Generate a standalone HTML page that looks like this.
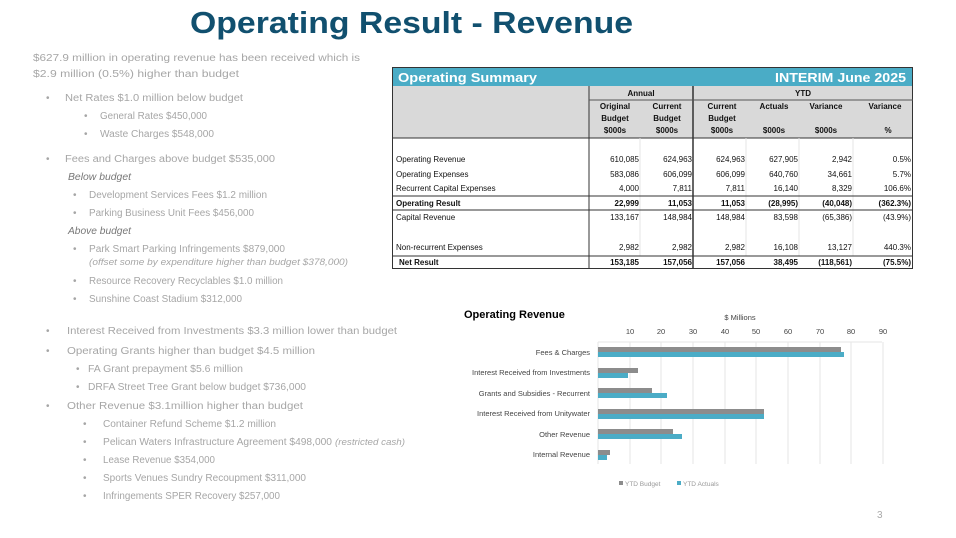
<!DOCTYPE html>
<html><head><meta charset="utf-8"><style>
html,body{margin:0;padding:0;background:#fff;width:956px;height:538px;overflow:hidden}
svg{display:block}
.g{fill:#a6a6a6;font-family:"Liberation Sans",sans-serif;font-size:10px}
.t{font-family:"Liberation Sans",sans-serif;font-size:8px;fill:#111}
.b{font-weight:bold}
.c{font-family:"Liberation Sans",sans-serif;font-size:7.5px;fill:#444}
</style></head><body>
<svg width="956" height="538" viewBox="0 0 956 538" xmlns="http://www.w3.org/2000/svg">
<text x="190" y="33" textLength="443" lengthAdjust="spacingAndGlyphs" font-family="Liberation Sans,sans-serif" font-size="31" font-weight="bold" fill="#11506f">Operating Result - Revenue</text>

<g class="g">
<text x="33" y="61" textLength="327" lengthAdjust="spacingAndGlyphs">$627.9 million in operating revenue has been received which is</text>
<text x="33" y="77" textLength="206" lengthAdjust="spacingAndGlyphs">$2.9 million (0.5%) higher than budget</text>
<text x="46" y="101">•</text><text x="65" y="101" textLength="178" lengthAdjust="spacingAndGlyphs">Net Rates $1.0 million below budget</text>
<text x="84" y="119">•</text><text x="100" y="119" textLength="107" lengthAdjust="spacingAndGlyphs">General Rates $450,000</text>
<text x="84" y="137">•</text><text x="100" y="137" textLength="114" lengthAdjust="spacingAndGlyphs">Waste Charges $548,000</text>
<text x="46" y="162">•</text><text x="65" y="162" textLength="210" lengthAdjust="spacingAndGlyphs">Fees and Charges above budget $535,000</text>
<text x="68" y="180" font-style="italic" textLength="63" lengthAdjust="spacingAndGlyphs" fill="#777">Below budget</text>
<text x="73" y="198">•</text><text x="89" y="198" textLength="178" lengthAdjust="spacingAndGlyphs">Development Services Fees $1.2 million</text>
<text x="73" y="216">•</text><text x="89" y="216" textLength="165" lengthAdjust="spacingAndGlyphs">Parking Business Unit Fees $456,000</text>
<text x="68" y="234" font-style="italic" textLength="63" lengthAdjust="spacingAndGlyphs" fill="#777">Above budget</text>
<text x="73" y="252">•</text><text x="89" y="252" textLength="196" lengthAdjust="spacingAndGlyphs">Park Smart Parking Infringements $879,000</text>
<text x="89" y="265" font-style="italic" font-size="9" textLength="259" lengthAdjust="spacingAndGlyphs">(offset some by expenditure higher than budget $378,000)</text>
<text x="73" y="284">•</text><text x="89" y="284" textLength="194" lengthAdjust="spacingAndGlyphs">Resource Recovery Recyclables $1.0 million</text>
<text x="73" y="302">•</text><text x="89" y="302" textLength="153" lengthAdjust="spacingAndGlyphs">Sunshine Coast Stadium $312,000</text>
<text x="46" y="334">•</text><text x="67" y="334" textLength="330" lengthAdjust="spacingAndGlyphs">Interest Received from Investments $3.3 million lower than budget</text>
<text x="46" y="354">•</text><text x="67" y="354" textLength="248" lengthAdjust="spacingAndGlyphs">Operating Grants higher than budget $4.5 million</text>
<text x="76" y="372">•</text><text x="88" y="372" textLength="155" lengthAdjust="spacingAndGlyphs">FA Grant prepayment $5.6 million</text>
<text x="76" y="390">•</text><text x="88" y="390" textLength="218" lengthAdjust="spacingAndGlyphs">DRFA Street Tree Grant below budget $736,000</text>
<text x="46" y="409">•</text><text x="67" y="409" textLength="236" lengthAdjust="spacingAndGlyphs">Other Revenue $3.1million higher than budget</text>
<text x="83" y="427">•</text><text x="103" y="427" textLength="173" lengthAdjust="spacingAndGlyphs">Container Refund Scheme $1.2 million</text>
<text x="83" y="445">•</text><text x="103" y="445" textLength="229" lengthAdjust="spacingAndGlyphs">Pelican Waters Infrastructure Agreement $498,000</text>
<text x="335" y="445" font-style="italic" font-size="9" textLength="70" lengthAdjust="spacingAndGlyphs">(restricted cash)</text>
<text x="83" y="463">•</text><text x="103" y="463" textLength="112" lengthAdjust="spacingAndGlyphs">Lease Revenue $354,000</text>
<text x="83" y="481">•</text><text x="103" y="481" textLength="203" lengthAdjust="spacingAndGlyphs">Sports Venues Sundry Recoupment $311,000</text>
<text x="83" y="499">•</text><text x="103" y="499" textLength="177" lengthAdjust="spacingAndGlyphs">Infringements SPER Recovery $257,000</text>
</g>

<!-- table -->
<rect x="392" y="67" width="521" height="19" fill="#4aacc6"/>
<text x="398" y="82" font-family="Liberation Sans,sans-serif" font-size="13" font-weight="bold" fill="#fff" textLength="139" lengthAdjust="spacingAndGlyphs">Operating Summary</text>
<text x="906" y="82" text-anchor="end" font-family="Liberation Sans,sans-serif" font-size="13" font-weight="bold" fill="#fff" textLength="131" lengthAdjust="spacingAndGlyphs">INTERIM June 2025</text>
<rect x="392" y="86" width="521" height="52" fill="#d9d9d9"/>
<rect x="392.5" y="67.5" width="520" height="201" fill="none" stroke="#333" stroke-width="1"/>
<line x1="589" y1="86" x2="589" y2="269" stroke="#333"/>
<line x1="693" y1="86" x2="693" y2="269" stroke="#333" stroke-width="1.5"/>
<line x1="589" y1="100" x2="913" y2="100" stroke="#555"/>
<line x1="392" y1="138" x2="913" y2="138" stroke="#333"/>
<g stroke="#e4e4e4"><line x1="640" y1="138" x2="640" y2="256"/><line x1="746" y1="138" x2="746" y2="256"/><line x1="799" y1="138" x2="799" y2="256"/><line x1="853" y1="138" x2="853" y2="256"/></g>
<g stroke="#333"><line x1="392" y1="196" x2="913" y2="196"/><line x1="392" y1="210" x2="913" y2="210"/><line x1="392" y1="256" x2="913" y2="256"/></g>
<g class="t b" text-anchor="middle">
<text x="641" y="96">Annual</text><text x="803" y="96">YTD</text>
<text x="615" y="109">Original</text><text x="615" y="121">Budget</text><text x="615" y="133">$000s</text>
<text x="667" y="109">Current</text><text x="667" y="121">Budget</text><text x="667" y="133">$000s</text>
<text x="722" y="109">Current</text><text x="722" y="121">Budget</text><text x="722" y="133">$000s</text>
<text x="774" y="109">Actuals</text><text x="774" y="133">$000s</text>
<text x="826" y="109">Variance</text><text x="826" y="133">$000s</text>
<text x="885" y="109">Variance</text><text x="888" y="133">%</text>
</g>
<g class="t">
<text x="396" y="162">Operating Revenue</text>
<text x="396" y="177">Operating Expenses</text>
<text x="396" y="191">Recurrent Capital Expenses</text>
<text x="396" y="206" class="b">Operating Result</text>
<text x="396" y="220">Capital Revenue</text>
<text x="396" y="250">Non-recurrent Expenses</text>
<text x="399" y="265" class="b">Net Result</text>
</g>
<g class="t" text-anchor="end">
<text x="639" y="162">610,085</text><text x="692" y="162">624,963</text><text x="745" y="162">624,963</text><text x="798" y="162">627,905</text><text x="852" y="162">2,942</text><text x="911" y="162">0.5%</text>
<text x="639" y="177">583,086</text><text x="692" y="177">606,099</text><text x="745" y="177">606,099</text><text x="798" y="177">640,760</text><text x="852" y="177">34,661</text><text x="911" y="177">5.7%</text>
<text x="639" y="191">4,000</text><text x="692" y="191">7,811</text><text x="745" y="191">7,811</text><text x="798" y="191">16,140</text><text x="852" y="191">8,329</text><text x="911" y="191">106.6%</text>
<g class="b"><text x="639" y="206">22,999</text><text x="692" y="206">11,053</text><text x="745" y="206">11,053</text><text x="798" y="206">(28,995)</text><text x="852" y="206">(40,048)</text><text x="911" y="206">(362.3%)</text></g>
<text x="639" y="220">133,167</text><text x="692" y="220">148,984</text><text x="745" y="220">148,984</text><text x="798" y="220">83,598</text><text x="852" y="220">(65,386)</text><text x="911" y="220">(43.9%)</text>
<text x="639" y="250">2,982</text><text x="692" y="250">2,982</text><text x="745" y="250">2,982</text><text x="798" y="250">16,108</text><text x="852" y="250">13,127</text><text x="911" y="250">440.3%</text>
<g class="b"><text x="639" y="265">153,185</text><text x="692" y="265">157,056</text><text x="745" y="265">157,056</text><text x="798" y="265">38,495</text><text x="852" y="265">(118,561)</text><text x="911" y="265">(75.5%)</text></g>
</g>

<!-- chart -->
<text x="464" y="318" font-family="Liberation Sans,sans-serif" font-size="11" font-weight="bold" fill="#000">Operating Revenue</text>
<text x="740" y="320" text-anchor="middle" class="c" fill="#888">$ Millions</text>
<g class="c" text-anchor="middle">
<text x="630" y="334">10</text><text x="661" y="334">20</text><text x="693" y="334">30</text><text x="725" y="334">40</text><text x="756" y="334">50</text><text x="788" y="334">60</text><text x="820" y="334">70</text><text x="851" y="334">80</text><text x="883" y="334">90</text>
</g>
<g stroke="#e6e6e6"><line x1="598" y1="342" x2="882" y2="342"/>
<line x1="598" y1="342" x2="598" y2="464"/><line x1="630" y1="342" x2="630" y2="464"/><line x1="661" y1="342" x2="661" y2="464"/><line x1="693" y1="342" x2="693" y2="464"/><line x1="725" y1="342" x2="725" y2="464"/><line x1="756" y1="342" x2="756" y2="464"/><line x1="788" y1="342" x2="788" y2="464"/><line x1="820" y1="342" x2="820" y2="464"/><line x1="851" y1="342" x2="851" y2="464"/><line x1="883" y1="342" x2="883" y2="464"/></g>
<g fill="#8c8c8c">
<rect x="598" y="347" width="243" height="5"/><rect x="598" y="368" width="40" height="5"/><rect x="598" y="388" width="54" height="5"/><rect x="598" y="409" width="166" height="5"/><rect x="598" y="429" width="75" height="5"/><rect x="598" y="450" width="12" height="5"/>
</g>
<g fill="#4bacc6">
<rect x="598" y="352" width="246" height="5"/><rect x="598" y="373" width="30" height="5"/><rect x="598" y="393" width="69" height="5"/><rect x="598" y="414" width="166" height="5"/><rect x="598" y="434" width="84" height="5"/><rect x="598" y="455" width="9" height="5"/>
</g>
<g class="c" text-anchor="end">
<text x="590" y="355">Fees &amp; Charges</text>
<text x="590" y="375">Interest Received from Investments</text>
<text x="590" y="396">Grants and Subsidies - Recurrent</text>
<text x="590" y="416">Interest Received from Unitywater</text>
<text x="590" y="437">Other Revenue</text>
<text x="590" y="457">Internal Revenue</text>
</g>
<rect x="619" y="481" width="4" height="4" fill="#8c8c8c"/>
<text x="625" y="486" font-family="Liberation Sans,sans-serif" font-size="6.5" fill="#999">YTD Budget</text>
<rect x="677" y="481" width="4" height="4" fill="#4bacc6"/>
<text x="683" y="486" font-family="Liberation Sans,sans-serif" font-size="6.5" fill="#999">YTD Actuals</text>
<text x="877" y="518" font-family="Liberation Sans,sans-serif" font-size="10" fill="#aaa">3</text>
</svg>
</body></html>
